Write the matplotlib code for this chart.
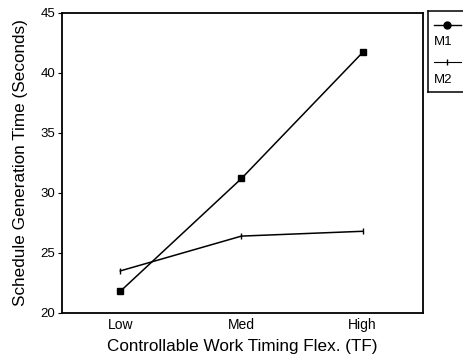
import numpy as np
import matplotlib
matplotlib.use('Agg')
import matplotlib.pyplot as plt

plt.rcParams['font.family'] = ['Liberation Sans', 'DejaVu Sans']

# Werte je Stufe der Flexibilitaet
levels = ['Low', 'Med', 'High']
m1 = [21.8, 31.2, 41.7]
m2 = [23.5, 26.4, 26.8]
yticks = [20, 25, 30, 35, 40, 45]

fig = plt.figure(figsize=(4.64, 3.58), dpi=100)
ax = fig.add_axes([0.134, 0.126, 0.778, 0.838])

x = np.arange(len(levels))
ax.plot(x, m1, color='black', linewidth=1.1, marker='s', markersize=4.5)
ax.plot(x, m2, color='black', linewidth=1.1, marker='|', markersize=5, markeredgewidth=1)

ax.set_xlim(-0.48, 2.5)
ax.set_ylim(20, 45)
ax.set_xticks(x)
ax.set_xticklabels(levels, fontsize=10)
ax.set_yticks(yticks)
ax.set_yticklabels([str(v) for v in yticks], fontsize=9.5)
ax.tick_params(axis='x', length=0, pad=4)
ax.tick_params(axis='y', length=3, width=0.8, pad=2)
for s in ax.spines.values():
    s.set_linewidth(1.3)

ax.set_xlabel('Controllable Work Timing Flex. (TF)', fontsize=12.3, labelpad=5)
ax.set_ylabel('Schedule Generation Time (Seconds)', fontsize=12.3, labelpad=9)

# Legende rechts, Beschriftung unter dem Linienstueck
lax = fig.add_axes([428 / 464, 1 - 92 / 358, 40 / 464, 81 / 358])
lax.set_xlim(0, 1)
lax.set_ylim(0, 1)
lax.set_xticks([])
lax.set_yticks([])
for s in lax.spines.values():
    s.set_linewidth(1.1)
lax.plot([0.15, 0.82], [0.83, 0.83], color='black', linewidth=1)
lax.plot([0.48], [0.83], color='black', marker='o', markersize=5)
lax.text(0.15, 0.62, 'M1', fontsize=9.5, va='center', ha='left')
lax.plot([0.15, 0.82], [0.37, 0.37], color='black', linewidth=0.8)
lax.plot([0.48], [0.37], color='black', marker='|', markersize=4)
lax.text(0.15, 0.15, 'M2', fontsize=9.5, va='center', ha='left')

fig.savefig('out.png', dpi=100)
